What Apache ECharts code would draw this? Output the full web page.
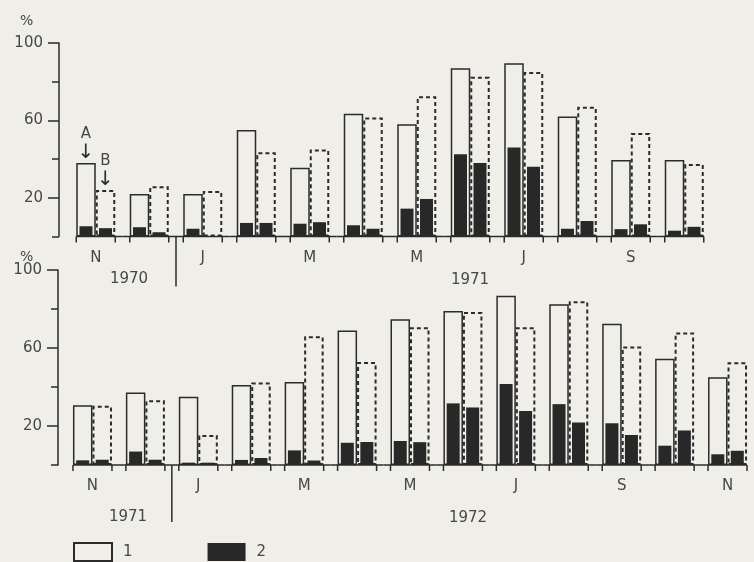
<!DOCTYPE html>
<html>
<head>
<meta charset="utf-8">
<script src="https://cdn.jsdelivr.net/npm/echarts@6/dist/echarts.min.js"></script>
<style>
html,body{margin:0;padding:0;background:#efeee8;}
#chart{width:754px;height:562px;}
</style>
</head>
<body>
<div id="chart"></div>
<script>
// ---- data ----
const topMonths = ['N','D','J','F','M','A','M','J','J','A','S','O'];
const bottomMonths = ['N','D','J','F','M','A','M','J','J','A','S','O','N'];
const topYears = ['1970', '1971'];
const bottomYears = ['1971', '1972'];
const yTickLabels = [20, 60, 100];
const yMinorTicks = [0, 40, 80];

const topA = [38, 22, 22, 55, 35.5, 63.5, 58, 87, 89.5, 62, 39.5, 39.5];
const topB = [24, 26, 23.5, 43.5, 45, 61.5, 72.5, 82.5, 85, 67, 53.5, 37.5];
const topDarkA = [5.3, 4.8, 4, 7, 6.6, 5.8, 14.4, 42.5, 46, 4, 3.8, 3];
const topDarkB = [4.3, 2.2, 0, 7, 7.4, 4, 19.4, 38, 36, 8, 6.3, 5];

const bottomA = [30.6, 37.2, 35, 41, 42.6, 69, 74.7, 79, 86.8, 82.4, 72.4, 54.5, 45];
const bottomB = [30.4, 33.2, 15.4, 42.3, 66, 52.8, 70.7, 78.5, 70.7, 84, 60.8, 68, 52.7];
const bottomDarkA = [2.4, 6.9, 1.2, 2.6, 7.5, 11.4, 12.3, 31.6, 41.6, 31.2, 21.4, 9.9, 5.5];
const bottomDarkB = [2.7, 2.7, 1.2, 3.6, 2.3, 11.8, 11.7, 29.5, 27.7, 21.8, 15.4, 17.7, 7.3];

// ---- style ----
const BG = '#efeee8';
const INK = '#2b2b2b';
const TXT = '#474747';
const FONT = 'DejaVu Sans';
const BAR_W = 19.5;
const DARK_W = 13;

const chart = echarts.init(document.getElementById('chart'));

function yAxesFor(gridIndex, offset) {
  return [
    {
      gridIndex, type: 'value', position: 'left', min: 0, max: 100, interval: 20, offset,
      axisLine: { show: true, lineStyle: { color: INK, width: 1.5 } },
      axisTick: { show: true, length: 11, inside: false, customValues: yTickLabels, lineStyle: { color: INK, width: 1.5 } },
      axisLabel: { customValues: yTickLabels, margin: 16, fontFamily: FONT, fontSize: 15, color: TXT },
      splitLine: { show: false }
    },
    {
      gridIndex, type: 'value', position: 'left', min: 0, max: 100, interval: 20, offset,
      axisLine: { show: false },
      axisTick: { show: true, length: 7, customValues: yMinorTicks, lineStyle: { color: INK, width: 1.5 } },
      axisLabel: { show: false },
      splitLine: { show: false }
    }
  ];
}

function xAxesFor(gridIndex, months) {
  return [
    {
      gridIndex, type: 'category', data: months,
      axisLine: { show: false }, axisTick: { show: false },
      axisLabel: {
        interval: (idx) => idx % 2 === 0,
        margin: 14, fontFamily: FONT, fontSize: 15, color: TXT
      }
    },
    { gridIndex, type: 'category', data: months, show: false }
  ];
}

function decoSeries(xi, yi, months, sepLen) {
  return {
    type: 'custom', xAxisIndex: xi, yAxisIndex: yi, silent: true, clip: false, z: 5,
    data: months.map((m, i) => [i]),
    renderItem: function (params, api) {
      const i = api.value(0);
      const c = api.coord([i, 0]);
      const band = api.size([1, 0])[0];
      const y0 = c[1];
      const left = i === 0 ? c[0] - BAR_W : c[0] - band / 2;
      const right = i === months.length - 1 ? c[0] + BAR_W : c[0] + band / 2;
      const st = { stroke: INK, lineWidth: 1.5 };
      const ch = [
        { type: 'line', shape: { x1: left, y1: y0, x2: right, y2: y0 }, style: st },
        { type: 'line', shape: { x1: c[0] - BAR_W, y1: y0, x2: c[0] - BAR_W, y2: y0 + 6 }, style: st },
        { type: 'line', shape: { x1: c[0] + BAR_W, y1: y0, x2: c[0] + BAR_W, y2: y0 + 6 }, style: st }
      ];
      if (i === 2) {
        ch.push({ type: 'line', shape: { x1: c[0] - band / 2, y1: y0, x2: c[0] - band / 2, y2: y0 + sepLen }, style: st });
      }
      return { type: 'group', children: ch };
    }
  };
}

function annotated(values, letter) {
  return values.map((v, i) => i === 0 ? {
    value: v,
    label: {
      show: true, position: 'top', distance: 1,
      formatter: '{t|' + letter + '}\n{a|↓}',
      rich: {
        t: { fontFamily: FONT, fontSize: 15, color: TXT, lineHeight: 17 },
        a: { fontFamily: FONT, fontSize: 20, color: INK, lineHeight: 19 }
      }
    }
  } : v);
}

function panelSeries(xi, yi, A, B, dA, dB, months, sepLen, withNotes) {
  return [
    {
      type: 'bar', name: '1', xAxisIndex: xi, yAxisIndex: yi,
      data: withNotes ? annotated(A, 'A') : A,
      barWidth: BAR_W, barGap: '0%', z: 2,
      itemStyle: { color: BG, borderColor: INK, borderWidth: 1.5 }
    },
    {
      type: 'bar', name: '1 B', xAxisIndex: xi, yAxisIndex: yi,
      data: withNotes ? annotated(B, 'B') : B,
      barWidth: BAR_W, barGap: '0%', z: 2,
      itemStyle: { color: BG, borderColor: INK, borderWidth: 2, borderType: [4, 3] }
    },
    {
      type: 'bar', name: '2', xAxisIndex: xi + 1, yAxisIndex: yi,
      data: dA, barWidth: DARK_W, barGap: '50%', z: 3,
      itemStyle: { color: '#282828' }
    },
    {
      type: 'bar', name: '2 B', xAxisIndex: xi + 1, yAxisIndex: yi,
      data: dB, barWidth: DARK_W, barGap: '50%', z: 3,
      itemStyle: { color: '#282828' }
    },
    decoSeries(xi, yi, months, sepLen)
  ];
}

const yearStyle = { fontFamily: FONT, fontSize: 15, fill: TXT, textAlign: 'center', textVerticalAlign: 'middle' };

const option = {
  backgroundColor: BG,
  animation: false,
  textStyle: { fontFamily: FONT },
  grid: [
    { left: 69, top: 43, width: 642, height: 193.5 },
    { left: 66, top: 270, width: 700, height: 195 }
  ],
  xAxis: [...xAxesFor(0, topMonths), ...xAxesFor(1, bottomMonths)],
  yAxis: [...yAxesFor(0, 10), ...yAxesFor(1, 8)],
  legend: {
    data: ['1', '2'], left: 73, top: 542, padding: 0,
    itemWidth: 38, itemHeight: 18, itemGap: 75, icon: 'rect',
    selectedMode: false,
    textStyle: { fontFamily: FONT, fontSize: 15, color: TXT, padding: [0, 0, 0, 6] }
  },
  graphic: [
    { type: 'text', left: 20, top: 14, style: { text: '%', fontFamily: FONT, fontSize: 14, fill: TXT } },
    { type: 'text', left: 20, top: 250, style: { text: '%', fontFamily: FONT, fontSize: 14, fill: TXT } },
    { type: 'text', x: 129, y: 279, style: Object.assign({ text: topYears[0] }, yearStyle) },
    { type: 'text', x: 470, y: 280, style: Object.assign({ text: topYears[1] }, yearStyle) },
    { type: 'text', x: 128, y: 517, style: Object.assign({ text: bottomYears[0] }, yearStyle) },
    { type: 'text', x: 468, y: 518, style: Object.assign({ text: bottomYears[1] }, yearStyle) }
  ],
  series: [
    ...panelSeries(0, 0, topA, topB, topDarkA, topDarkB, topMonths, 50, true),
    ...panelSeries(2, 2, bottomA, bottomB, bottomDarkA, bottomDarkB, bottomMonths, 57, false)
  ]
};
chart.setOption(option);
</script>
</body>
</html>
